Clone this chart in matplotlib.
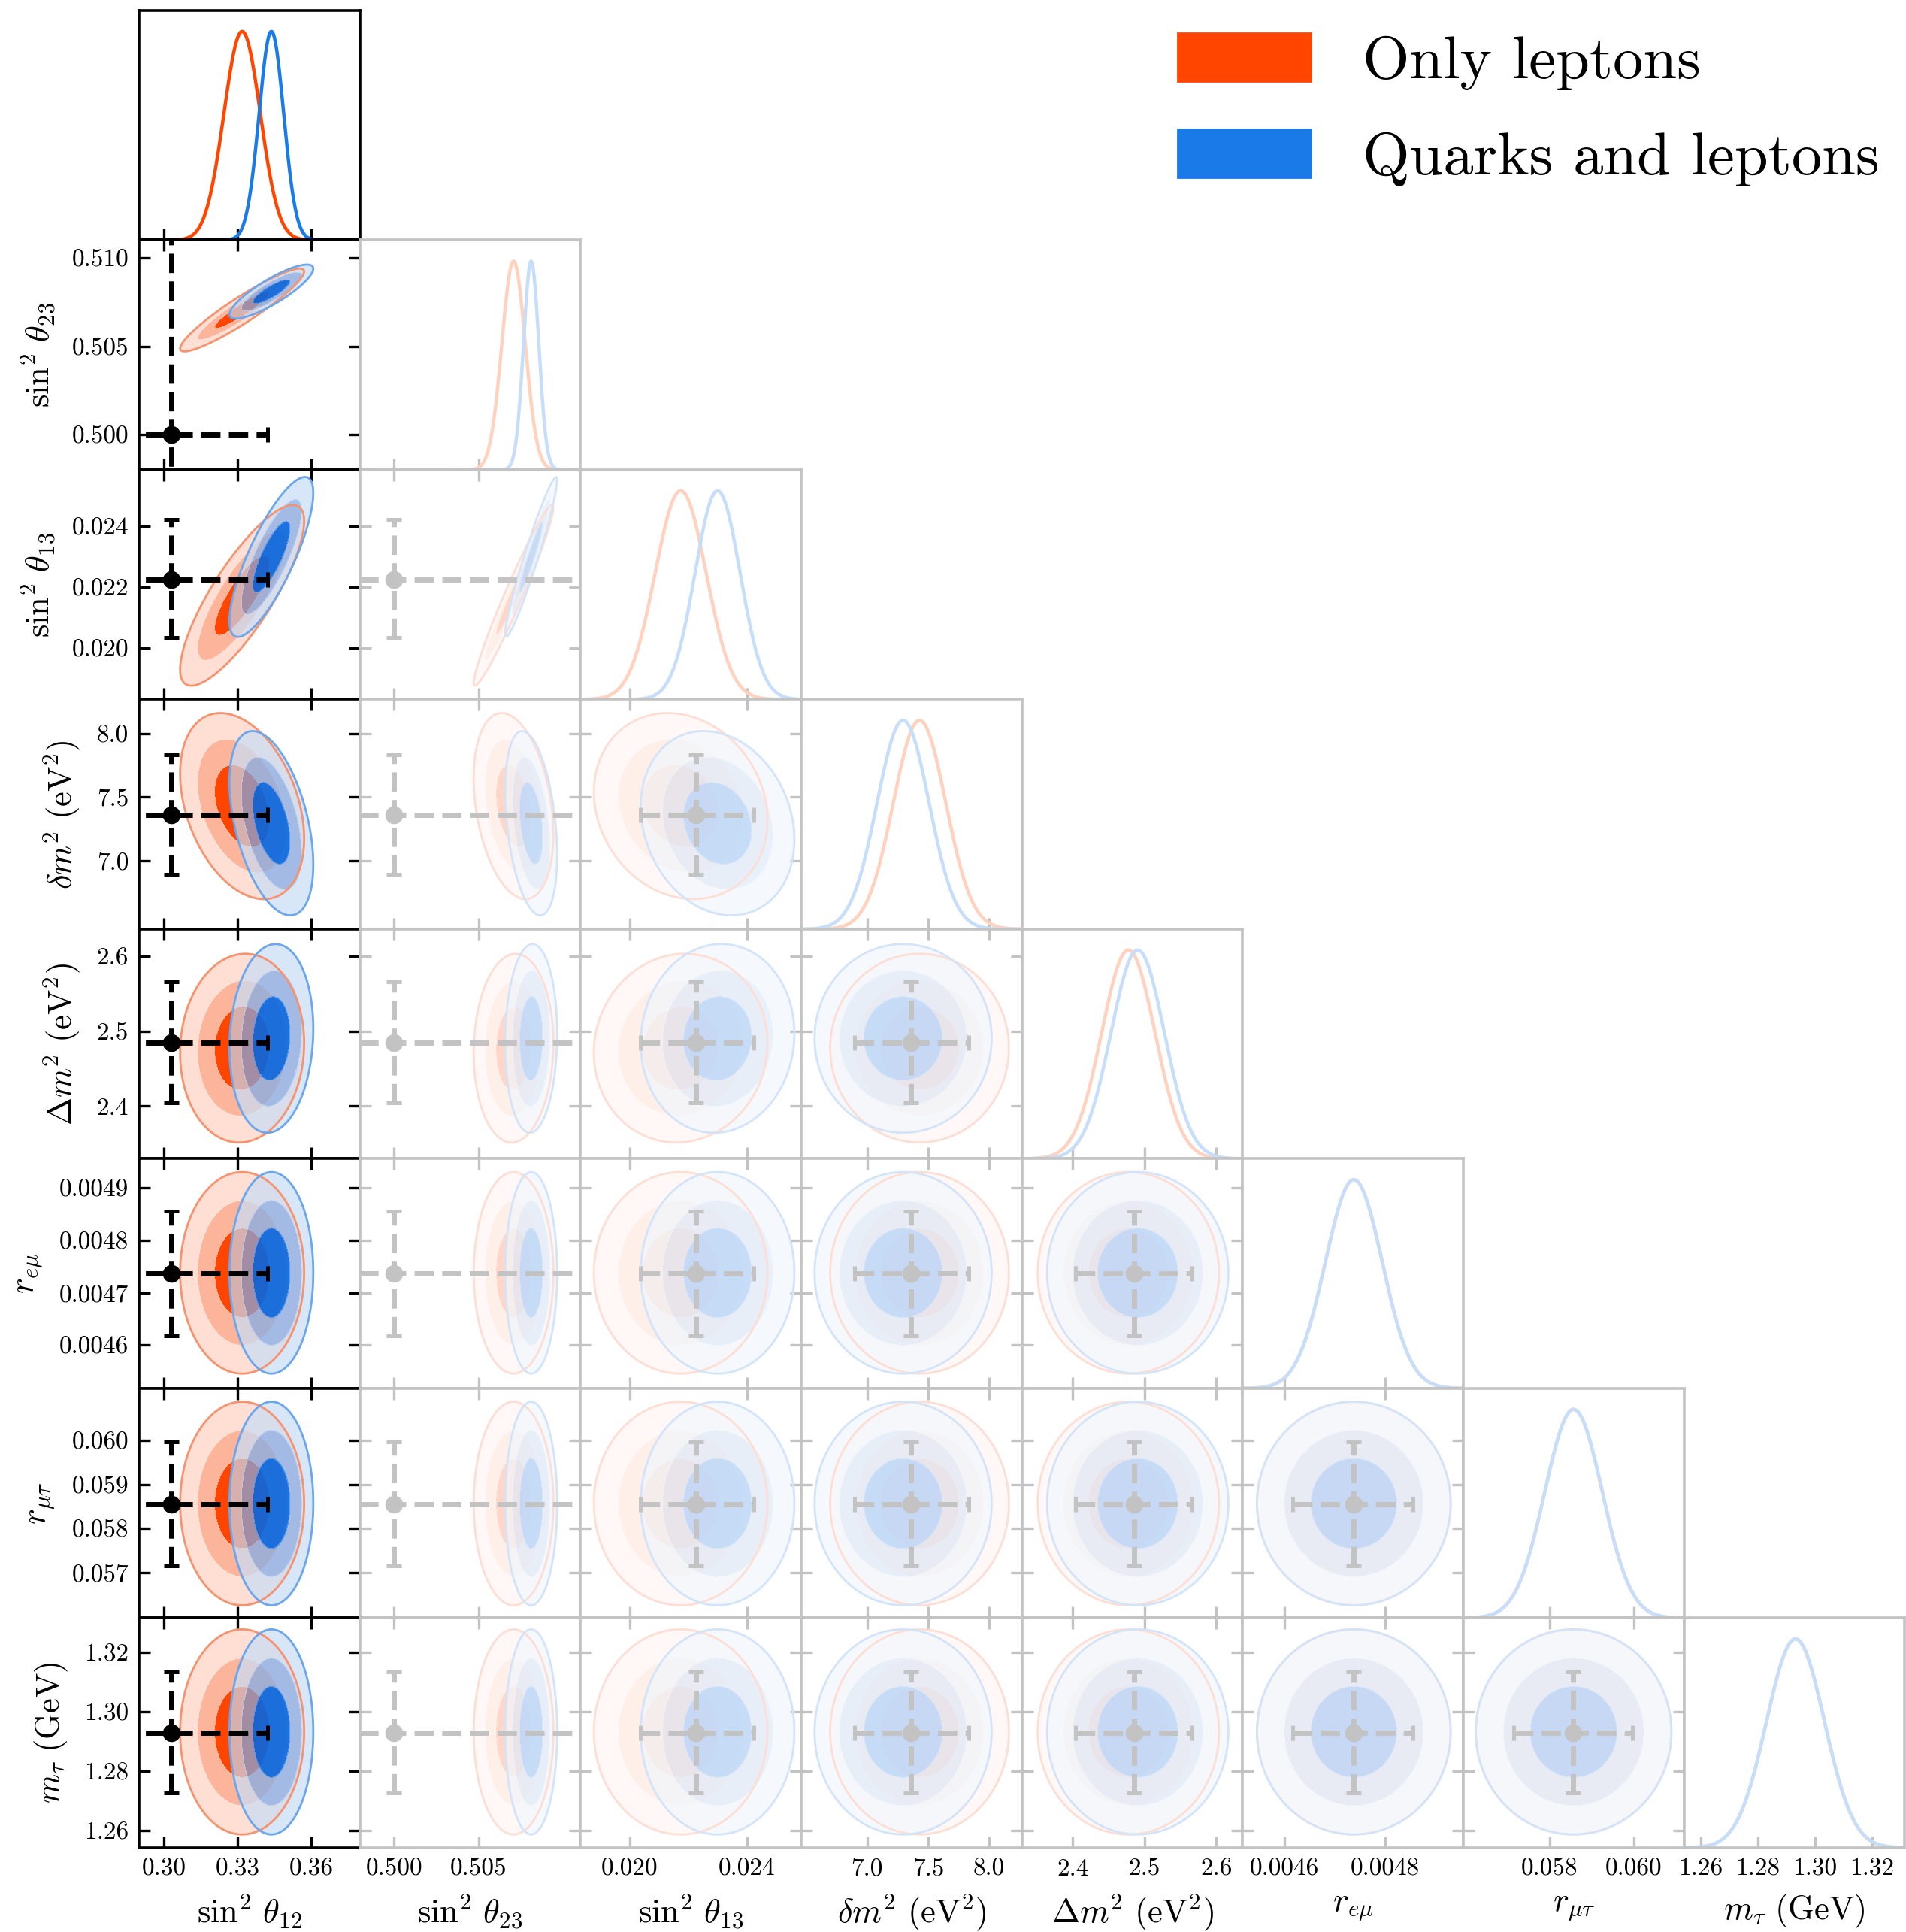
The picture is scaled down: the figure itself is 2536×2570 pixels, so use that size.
import numpy as np
import matplotlib
matplotlib.use("Agg")
import matplotlib.pyplot as plt
from matplotlib.colors import to_rgba
from matplotlib.patches import Patch

plt.rcParams['font.family'] = 'serif'
plt.rcParams['font.serif'] = ['cmr10']
plt.rcParams['mathtext.fontset'] = 'cm'
plt.rcParams['axes.unicode_minus'] = False
plt.rcParams['axes.formatter.use_mathtext'] = True

# parameters (rows/columns of the triangle plot)
param_labels = [r'$\sin^2\,\theta_{12}$', r'$\sin^2\,\theta_{23}$', r'$\sin^2\,\theta_{13}$',
                r'$\delta m^2\ (\mathrm{eV}^2)$', r'$\Delta m^2\ (\mathrm{eV}^2)$',
                r'$r_{e\mu}$', r'$r_{\mu\tau}$', r'$m_\tau\ (\mathrm{GeV})$']
param_ranges = [(0.2899, 0.3797), (0.49798, 0.51102), (0.01832, 0.02586), (6.46, 8.27),
                (2.3295, 2.6366), (0.004517, 0.004956), (0.05596, 0.06119), (1.2543, 1.3314)]
x_ticks = [[0.30, 0.33, 0.36], [0.500, 0.505], [0.020, 0.024], [7.0, 7.5, 8.0],
           [2.4, 2.5, 2.6], [0.0046, 0.0048], [0.058, 0.060], [1.26, 1.28, 1.30, 1.32]]
y_ticks = [[], [0.500, 0.505, 0.510], [0.020, 0.022, 0.024], [7.0, 7.5, 8.0],
           [2.4, 2.5, 2.6], [0.0046, 0.0047, 0.0048, 0.0049],
           [0.057, 0.058, 0.059, 0.060], [1.26, 1.28, 1.30, 1.32]]
tick_fmt = ['%.2f', '%.3f', '%.3f', '%.1f', '%.1f', '%.4f', '%.3f', '%.2f']

# posterior summaries: means, widths and pairwise correlations
leptons_mean = [0.3318, 0.50706, 0.02174, 7.43, 2.4775, 0.004738, 0.05857, 1.2932]
leptons_sigma = [0.0074, 0.00069, 0.00087, 0.215, 0.037, 0.0000565, 0.00068, 0.0101]
quarks_mean = [0.3437, 0.50810, 0.02300, 7.295, 2.4905, 0.004738, 0.05857, 1.2932]
quarks_sigma = [0.0050, 0.00045, 0.00077, 0.213, 0.037, 0.0000565, 0.00068, 0.0101]
corr_pairs = [(0, 1), (0, 2), (1, 2), (0, 3), (1, 3), (2, 3), (0, 4), (1, 4), (2, 4)]
leptons_rho = [0.93, 0.82, 0.97, -0.35, -0.30, -0.15, 0.05, 0.05, 0.05]
quarks_rho = [0.85, 0.80, 0.96, -0.45, -0.35, -0.18, 0.10, 0.05, 0.05]

# reference point with its allowed range
ref_val = [0.303, 0.500, 0.02225, 7.36, 2.485, 0.004737, 0.05855, 1.293]
ref_lo = [0.270, 0.410, 0.02035, 6.895, 2.404, 0.004617, 0.05715, 1.2727]
ref_hi = [0.342, 0.620, 0.02424, 7.832, 2.566, 0.004856, 0.05997, 1.3134]

set_names = ['Only leptons', 'Quarks and leptons']
gray = '#C3C3C3'
chi2_levels = [0, 2.279, 5.991, 11.62]   # 68%, 95%, 99.7% regions in 2D

sets = [
    dict(mean=leptons_mean, sigma=leptons_sigma, rho=leptons_rho,
         fills=['#FF4500', '#FCB59B', '#FFDFD4'], alphas=[1.0, 1.0, 1.0],
         edge='#F7926E', line='#FF4500', fade=0.22),
    dict(mean=quarks_mean, sigma=quarks_sigma, rho=quarks_rho,
         fills=['#0367E2', '#7DACEB', '#C7DDF6'], alphas=[0.9, 0.7, 0.7],
         edge='#6CA6EC', line='#1A7AE8', fade=0.25),
]


def fade(c, f):
    r, g, b, _ = to_rgba(c)
    return (1 - f * (1 - r), 1 - f * (1 - g), 1 - f * (1 - b))


def get_rho(rhos, i, j):
    for k, (a, b) in enumerate(corr_pairs):
        if (a, b) == (i, j) or (b, a) == (i, j):
            return rhos[k]
    return 0.0


n = len(param_labels)
fig, axes = plt.subplots(n, n, figsize=(12.68, 12.85), dpi=200,
                         gridspec_kw=dict(hspace=0, wspace=0, left=0.073, right=0.9994,
                                          top=0.99455, bottom=0.0436))

for i in range(n):
    for j in range(n):
        ax = axes[i, j]
        if j > i:
            ax.remove()
            continue
        active = (j == 0)
        frame = 'k' if active else gray
        for sp in ax.spines.values():
            sp.set_color(frame)
            sp.set_linewidth(1.3)
        ax.set_xlim(param_ranges[j])

        if i == j:
            x = np.linspace(param_ranges[j][0], param_ranges[j][1], 500)
            for s in sets:
                pdf = np.exp(-0.5 * ((x - s['mean'][j]) / s['sigma'][j]) ** 2)
                col = s['line'] if active else fade(s['line'], 0.25)
                ax.plot(x, pdf, color=col, lw=1.6)
            ax.set_ylim(0, 1.1)
            ax.set_yticks([])
            ax.tick_params(axis='x', direction='in', bottom=True, top=False,
                           length=5.5, width=1.2, color=frame, labelsize=12, pad=5)
        else:
            xs = np.linspace(param_ranges[j][0], param_ranges[j][1], 260)
            ys = np.linspace(param_ranges[i][0], param_ranges[i][1], 260)
            X, Y = np.meshgrid(xs, ys)
            for s in sets:
                dx = (X - s['mean'][j]) / s['sigma'][j]
                dy = (Y - s['mean'][i]) / s['sigma'][i]
                r = get_rho(s['rho'], i, j)
                d2 = (dx ** 2 - 2 * r * dx * dy + dy ** 2) / (1 - r ** 2)
                if active:
                    cols = [to_rgba(c, a) for c, a in zip(s['fills'], s['alphas'])]
                    edge = s['edge']
                else:
                    cols = [to_rgba(fade(c, s['fade']), a) for c, a in zip(s['fills'], s['alphas'])]
                    edge = fade(s['edge'], 0.3)
                ax.contourf(X, Y, d2, levels=chi2_levels, colors=cols)
                ax.contour(X, Y, d2, levels=[chi2_levels[-1]], colors=[edge], linewidths=1.0)
            ax.set_ylim(param_ranges[i])
            ax.set_yticks(y_ticks[i])
            ax.tick_params(direction='in', top=True, right=True, bottom=True, left=True,
                           length=5.5, width=1.2, color=frame, labelsize=12, pad=5)
            c = 'k' if active else gray
            eb = ax.errorbar(ref_val[j], ref_val[i],
                             xerr=[[ref_val[j] - ref_lo[j]], [ref_hi[j] - ref_val[j]]],
                             yerr=[[ref_val[i] - ref_lo[i]], [ref_hi[i] - ref_val[i]]],
                             fmt='o', color=c, ms=7.5, elinewidth=2.5, capsize=3.5,
                             capthick=1.8, zorder=6)
            for lc in eb[2]:
                lc.set_linestyle('--')

        ax.set_xticks(x_ticks[j])
        if i == n - 1:
            ax.set_xticklabels([tick_fmt[j] % t for t in x_ticks[j]])
            ax.set_xlabel(param_labels[j], fontsize=16, labelpad=6)
        else:
            ax.tick_params(labelbottom=False)
        if j == 0 and i > 0:
            ax.set_yticklabels([tick_fmt[i] % t for t in y_ticks[i]])
            ax.set_ylabel(param_labels[i], fontsize=16, labelpad=7)
        else:
            ax.tick_params(labelleft=False)

handles = [Patch(facecolor=s['line'], edgecolor=s['line']) for s in sets]
fig.legend(handles, set_names, loc='upper right', bbox_to_anchor=(0.986, 0.983),
           frameon=False, fontsize=29, handlelength=2.2, handleheight=0.85,
           handletextpad=0.85, labelspacing=0.65, borderpad=0, borderaxespad=0)

fig.savefig('out.png', dpi=200)
